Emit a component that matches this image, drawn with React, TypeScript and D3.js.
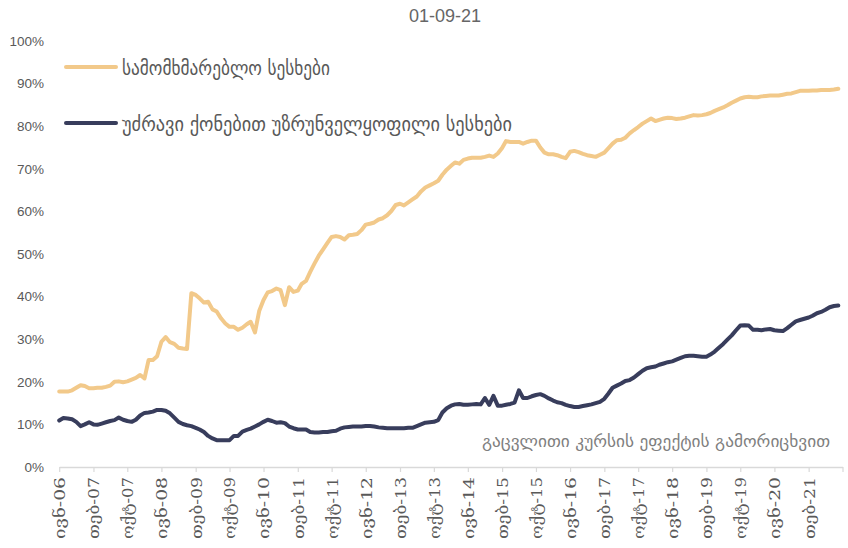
import { useRef, useEffect } from 'react';
import * as d3 from 'd3';

const WIDTH = 848;
const HEIGHT = 548;

const TITLE = '01-09-21';
const SERIES_NAMES = ['სამომხმარებლო სესხები', 'უძრავი ქონებით უზრუნველყოფილი სესხები'];
const NOTE = 'გაცვლითი კურსის ეფექტის გამორიცხვით';
const COLORS = ['#F2C98A', '#383D5C'];

// monthly observations, ივნ-06 .. სექ-21
const FIRST_MONTH = new Date(2006, 5, 1);
const END_MONTH = new Date(2021, 9, 1);

const TICK_LABELS = [
  'ივნ-06', 'თებ-07', 'ოქტ-07', 'ივნ-08', 'თებ-09', 'ოქტ-09', 'ივნ-10', 'თებ-11',
  'ოქტ-11', 'ივნ-12', 'თებ-13', 'ოქტ-13', 'ივნ-14', 'თებ-15', 'ოქტ-15', 'ივნ-16',
  'თებ-17', 'ოქტ-17', 'ივნ-18', 'თებ-19', 'ოქტ-19', 'ივნ-20', 'თებ-21',
];
const Y_TICKS = [0, 10, 20, 30, 40, 50, 60, 70, 80, 90, 100];

// სამომხმარებლო სესხები, %
const CONSUMER = [
  17.7, 17.7, 17.7, 18.0, 18.6, 19.2, 19.0, 18.5, 18.5, 18.6, 18.6, 18.8, 19.1, 20.0, 20.1, 19.9,
  20.1, 20.5, 20.9, 21.6, 20.8, 25.1, 25.1, 26.0, 29.4, 30.5, 29.3, 28.9, 28.0, 27.8, 27.7, 40.8,
  40.4, 39.6, 38.6, 38.8, 37.0, 36.5, 34.9, 33.7, 32.9, 32.9, 32.2, 32.7, 33.5, 34.1, 31.6, 36.6,
  39.2, 41.0, 41.3, 41.9, 41.5, 38.0, 42.2, 41.1, 41.4, 43.0, 43.7, 45.8, 47.8, 49.6, 51.1, 52.6,
  54.0, 54.2, 54.0, 53.4, 54.4, 54.5, 54.7, 55.6, 56.9, 57.1, 57.4, 58.1, 58.4, 59.1, 60.1, 61.5,
  61.8, 61.4, 62.1, 62.8, 63.5, 64.7, 65.6, 66.1, 66.6, 67.2, 68.6, 69.8, 70.7, 71.5, 71.2, 72.1,
  72.4, 72.6, 72.6, 72.6, 72.8, 73.1, 72.8, 73.6, 74.9, 76.5, 76.3, 76.3, 76.3, 75.9, 76.3, 76.6,
  76.6, 75.0, 73.8, 73.4, 73.4, 73.2, 72.8, 72.5, 74.0, 74.2, 73.9, 73.5, 73.2, 73.0, 72.8, 73.3,
  73.8, 74.8, 75.9, 76.7, 76.8, 77.3, 78.3, 79.1, 79.8, 80.6, 81.2, 81.8, 81.2, 81.5, 81.8, 82.0,
  81.9, 81.7, 81.8, 82.0, 82.3, 82.6, 82.5, 82.6, 82.8, 83.1, 83.6, 84.0, 84.4, 84.9, 85.5, 86.0,
  86.5, 86.8, 86.9, 86.8, 86.8, 87.0, 87.1, 87.2, 87.2, 87.2, 87.4, 87.6, 87.7, 88.0, 88.3, 88.3,
  88.3, 88.4, 88.4, 88.5, 88.5, 88.5, 88.6, 88.8,
];

// უძრავი ქონებით უზრუნველყოფილი სესხები, %
const MORTGAGE = [
  10.9, 11.5, 11.4, 11.2, 10.6, 9.6, 10.0, 10.5, 10.0, 9.9, 10.2, 10.5, 10.8, 11.0, 11.6, 11.1,
  10.8, 10.6, 11.1, 12.1, 12.7, 12.8, 13.0, 13.4, 13.4, 13.2, 12.6, 11.6, 10.6, 10.1, 9.8, 9.6,
  9.2, 8.8, 8.2, 7.3, 6.7, 6.3, 6.3, 6.3, 6.3, 7.3, 7.3, 8.3, 8.7, 9.0, 9.5, 10.0,
  10.6, 11.1, 10.8, 10.4, 10.5, 10.3, 9.5, 9.1, 8.8, 8.8, 8.8, 8.2, 8.1, 8.1, 8.2, 8.2,
  8.4, 8.5, 9.0, 9.3, 9.4, 9.5, 9.5, 9.5, 9.6, 9.6, 9.5, 9.3, 9.2, 9.1, 9.1, 9.1,
  9.1, 9.1, 9.2, 9.2, 9.6, 10.0, 10.4, 10.5, 10.6, 11.0, 12.8, 13.8, 14.4, 14.7, 14.8, 14.6,
  14.6, 14.7, 14.8, 14.7, 16.2, 14.6, 16.7, 14.4, 14.4, 14.6, 14.8, 15.1, 18.0, 16.2, 16.2, 16.6,
  16.9, 17.1, 16.7, 16.1, 15.6, 15.2, 15.0, 14.6, 14.3, 14.1, 14.1, 14.3, 14.5, 14.7, 15.0, 15.3,
  16.0, 17.2, 18.6, 19.1, 19.6, 20.2, 20.4, 21.0, 21.8, 22.6, 23.2, 23.4, 23.6, 24.0, 24.3, 24.6,
  24.8, 25.2, 25.6, 26.0, 26.1, 26.1, 26.0, 25.9, 25.9, 26.4, 27.1, 28.0, 28.9, 29.9, 30.9, 32.1,
  33.2, 33.3, 33.2, 32.2, 32.2, 32.1, 32.3, 32.4, 32.1, 32.0, 31.9, 32.6, 33.4, 34.2, 34.5, 34.8,
  35.1, 35.5, 36.1, 36.4, 36.9, 37.5, 37.8, 37.9,
];

const SANS = '"Liberation Sans", Arial, sans-serif';
const GEO_SANS = '"DejaVu Sans Condensed", "DejaVu Sans", sans-serif';
const GEO_SERIF = '"DejaVu Serif", "DejaVu Sans", serif';

export default function App() {
  const svgRef = useRef<SVGSVGElement>(null);

  useEffect(() => {
    if (!svgRef.current) return;
    const svg = d3.select(svgRef.current);
    svg.selectAll('*').remove();

    const months = d3.timeMonth.range(FIRST_MONTH, END_MONTH);

    const x = d3.scaleTime().domain([FIRST_MONTH, END_MONTH]).range([59.2, 842.5]);
    const y = d3.scaleLinear().domain([0, 100]).range([467, 41]);

    // title
    svg.append('text')
      .attr('x', 445)
      .attr('y', 22)
      .attr('text-anchor', 'middle')
      .attr('font-family', SANS)
      .attr('font-size', '18px')
      .attr('fill', '#666666')
      .text(TITLE);

    // y labels
    svg.append('g')
      .selectAll('text')
      .data(Y_TICKS)
      .join('text')
      .attr('x', 44)
      .attr('y', d => y(d))
      .attr('dy', '0.35em')
      .attr('text-anchor', 'end')
      .attr('font-family', SANS)
      .attr('font-size', '13.5px')
      .attr('fill', '#595959')
      .text(d => d + '%');

    // x axis
    const tickDates = months.filter((_, i) => i % 8 === 0).concat([END_MONTH]);
    const xAxis = d3.axisBottom(x)
      .tickValues(tickDates)
      .tickSize(5)
      .tickSizeOuter(0)
      .tickFormat((_, i) => TICK_LABELS[i] ?? '');
    const axisG = svg.append('g')
      .attr('transform', `translate(0,${y(0)})`)
      .call(xAxis);
    axisG.select('.domain').attr('stroke', '#D9D9D9').attr('stroke-width', 1.5);
    axisG.selectAll('.tick line').attr('stroke', '#D9D9D9').attr('stroke-width', 1.2);
    axisG.selectAll<SVGTextElement, Date>('.tick text')
      .attr('transform', 'rotate(-90)')
      .attr('text-anchor', 'end')
      .attr('x', -10)
      .attr('y', 0)
      .attr('dy', '0.36em')
      .attr('font-family', GEO_SERIF)
      .attr('font-size', '15px')
      .attr('fill', '#595959')
      .each(function () {
        if (this.textContent) {
          d3.select(this).attr('textLength', 62).attr('lengthAdjust', 'spacingAndGlyphs');
        }
      });

    // lines
    const line = d3.line<number>()
      .x((_, i) => x(months[i]))
      .y(d => y(d));

    [CONSUMER, MORTGAGE].forEach((values, k) => {
      svg.append('path')
        .datum(values)
        .attr('d', line)
        .attr('fill', 'none')
        .attr('stroke', COLORS[k])
        .attr('stroke-width', 4)
        .attr('stroke-linejoin', 'round')
        .attr('stroke-linecap', 'round');
    });

    // legend
    const legendY = [67, 123];
    const legendLen = [208, 390];
    SERIES_NAMES.forEach((name, k) => {
      svg.append('line')
        .attr('x1', 66).attr('x2', 116)
        .attr('y1', legendY[k]).attr('y2', legendY[k])
        .attr('stroke', COLORS[k])
        .attr('stroke-width', 4)
        .attr('stroke-linecap', 'round');
      svg.append('text')
        .attr('x', 122)
        .attr('y', legendY[k] + 8)
        .attr('font-family', GEO_SANS)
        .attr('font-size', '19px')
        .attr('fill', '#595959')
        .attr('textLength', legendLen[k])
        .attr('lengthAdjust', 'spacingAndGlyphs')
        .text(name);
    });

    // note
    svg.append('text')
      .attr('x', 482)
      .attr('y', 447)
      .attr('font-family', GEO_SANS)
      .attr('font-size', '16px')
      .attr('fill', '#7F7F7F')
      .attr('textLength', 348)
      .attr('lengthAdjust', 'spacingAndGlyphs')
      .text(NOTE);
  }, []);

  return (
    <svg
      ref={svgRef}
      width={WIDTH}
      height={HEIGHT}
      style={{ position: 'absolute', left: 0, top: 0, background: '#ffffff' }}
    />
  );
}
